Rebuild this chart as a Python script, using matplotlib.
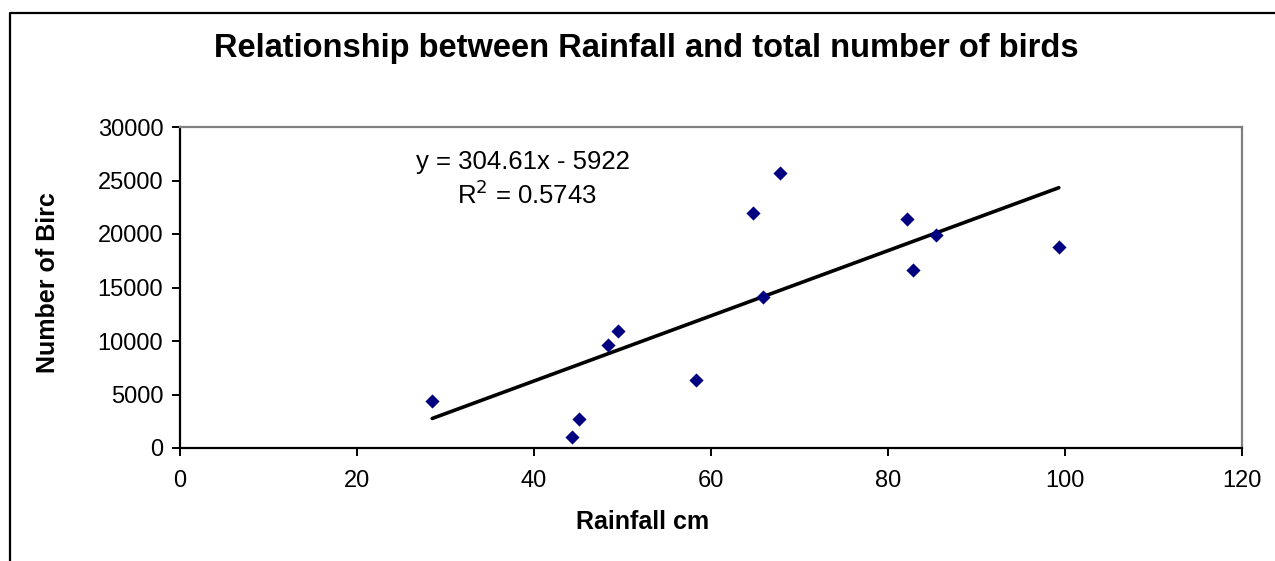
import matplotlib.pyplot as plt
import numpy as np
from matplotlib.lines import Line2D

# rainfall (cm) and total number of birds
rainfall = [28.5, 44.3, 45.1, 48.4, 49.5, 58.3, 64.7, 65.9, 67.8, 82.2, 82.8, 85.4, 99.3]
birds = [4420, 1000, 2710, 9630, 10930, 6360, 21930, 14080, 25670, 21400, 16640, 19900, 18790]

# linear trendline as printed on the chart
slope = 304.61
intercept = -5922
r_squared = 0.5743

x_ticks = [0, 20, 40, 60, 80, 100, 120]
y_ticks = [0, 5000, 10000, 15000, 20000, 25000, 30000]

plt.rcParams['font.family'] = ['Liberation Sans', 'DejaVu Sans']

fig = plt.figure(figsize=(12.75, 5.61), dpi=100)
ax = fig.add_axes([180 / 1275, 1 - 448 / 561, (1242 - 180) / 1275, (448 - 127) / 561])

ax.scatter(rainfall, birds, marker='D', s=52, color='#000080', zorder=3, linewidths=0)

xs = np.array([min(rainfall), max(rainfall)])
ax.plot(xs, slope * xs + intercept, color='black', lw=2.6, zorder=2, solid_capstyle='round')

ax.set_xlim(0, 120)
ax.set_ylim(0, 30000)
ax.set_xticks(x_ticks)
ax.set_yticks(y_ticks)
ax.tick_params(axis='both', direction='out', length=6, width=1.4, labelsize=17, colors='black', pad=6)
ax.tick_params(axis='x', pad=10)

for side in ['left', 'bottom']:
    ax.spines[side].set_color('black')
    ax.spines[side].set_linewidth(1.6)
for side in ['top', 'right']:
    ax.spines[side].set_color('#808080')
    ax.spines[side].set_linewidth(1.6)

ax.text(0.222, 0.868, f"y = {slope}x - {abs(intercept)}", transform=ax.transAxes,
        fontsize=18.5, ha='left', va='baseline')
ax.text(0.261, 0.76, f"R$^2$ = {r_squared}", transform=ax.transAxes,
        fontsize=18.5, ha='left', va='baseline')

fig.text(646 / 1275, 1 - 57 / 561, 'Relationship between Rainfall and total number of birds',
         fontsize=23.5, fontweight='bold', ha='center', va='baseline')
fig.text(643 / 1275, 1 - 522 / 561, 'Rainfall cm', fontsize=18, fontweight='bold',
         ha='center', va='center')
fig.text(48 / 1275, 1 - 283 / 561, 'Number of Birc', fontsize=18, fontweight='bold',
         ha='center', va='center', rotation=90)

# outer chart border (top and left visible, rest cut off)
fig.add_artist(Line2D([10 / 1275, 10 / 1275, 1.01], [-0.01, 1 - 13 / 561, 1 - 13 / 561],
                      transform=fig.transFigure, color='black', lw=1.6))

fig.savefig('out.png', dpi=100)
